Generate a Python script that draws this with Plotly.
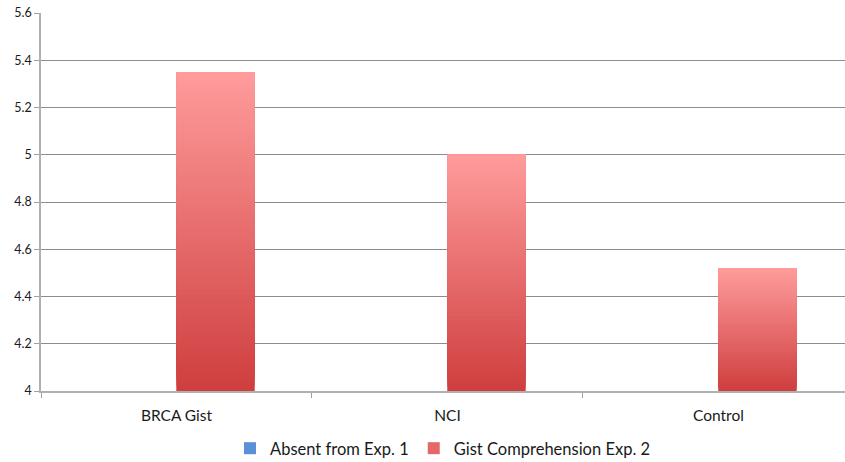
import plotly.graph_objects as go

# Mean gist comprehension scores by condition
categories = ["BRCA Gist", "NCI", "Control"]
absent_exp1 = [None, None, None]
gist_exp2 = [5.35, 5.00, 4.52]
y_ticks = [4, 4.2, 4.4, 4.6, 4.8, 5, 5.2, 5.4, 5.6]
y_tick_labels = ["4", "4.2", "4.4", "4.6", "4.8", "5", "5.2", "5.4", "5.6"]

AXIS_MIN = 4.0
BAR_W = 0.288
N_SLICES = 60
RED_BOTTOM = (207, 62, 62)
RED_TOP = (255, 156, 156)


def mix(c0, c1, t):
    return "rgb({},{},{})".format(*[round(a + (b - a) * t) for a, b in zip(c0, c1)])


# Vertical gradient per bar: each layer runs from its start level up to the
# bar's value, and higher layers are painted over lower ones.
sx, sbase, sh, scol = [], [], [], []
for cat, v in zip(categories, gist_exp2):
    step = (v - AXIS_MIN) / N_SLICES
    for k in range(N_SLICES):
        b = AXIS_MIN + k * step
        sx.append(cat)
        sbase.append(b)
        sh.append(v - b)
        scol.append(mix(RED_BOTTOM, RED_TOP, (k + 0.5) / N_SLICES))

fig = go.Figure()
fig.add_trace(go.Bar(
    name="Absent from Exp. 1", x=categories, y=absent_exp1,
    offset=-BAR_W, width=BAR_W,
    marker=dict(color="#5b8fd6", line=dict(width=0)),
))
fig.add_trace(go.Bar(
    name="Gist Comprehension Exp. 2", x=categories, y=gist_exp2,
    offset=0, width=BAR_W,
    marker=dict(color="#e46868", line=dict(width=0)),
))
fig.add_trace(go.Bar(
    x=sx, y=sh, base=sbase, offset=0, width=BAR_W,
    marker=dict(color=scol, line=dict(width=0)),
    showlegend=False, hoverinfo="skip",
))

font = "Lato, 'Open Sans', sans-serif"
fig.update_layout(
    width=845, height=462,
    barmode="overlay",
    paper_bgcolor="white", plot_bgcolor="white",
    margin=dict(l=41, r=0, t=13, b=71, autoexpand=False),
    font=dict(family=font, color="#1a1a1a"),
    showlegend=True,
    legend=dict(
        orientation="h", x=0.5, xanchor="center", y=-0.152, yanchor="middle",
        font=dict(size=16.5, family=font, color="#1a1a1a"),
        itemwidth=30, traceorder="normal",
    ),
    xaxis=dict(
        type="category", range=[-0.5, 2.467],
        showline=True, linecolor="#b0b0b0", linewidth=1.5,
        ticks="outside", tickson="boundaries", ticklen=5, tickcolor="#a0a0a0",
        ticklabelstandoff=10,
        tickfont=dict(size=15.5, family=font, color="#1a1a1a"),
        showgrid=False, zeroline=False,
    ),
    yaxis=dict(
        range=[4, 5.6], tickvals=y_ticks, ticktext=y_tick_labels,
        showline=True, linecolor="#b0b0b0", linewidth=1.5,
        ticks="outside", ticklen=5, tickcolor="#a0a0a0",
        tickfont=dict(size=12.5, family=font, color="#1a1a1a"),
        showgrid=True, gridcolor="#8c8c8c", gridwidth=1, zeroline=False,
    ),
)

fig.write_html("out.html")
